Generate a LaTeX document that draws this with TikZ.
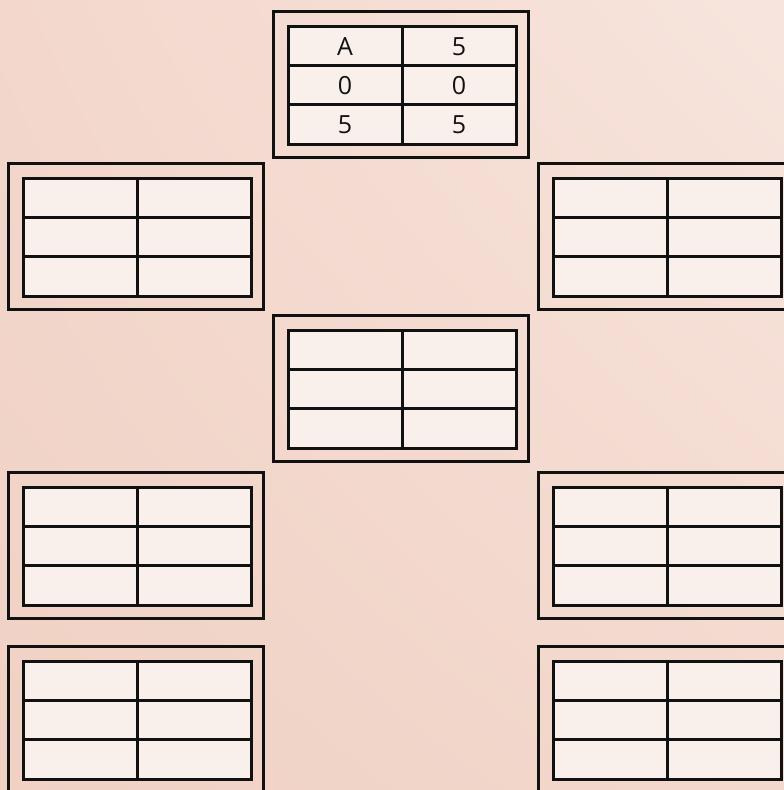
\documentclass[tikz,border=0pt]{standalone}
\usepackage{fontspec}
\setmainfont{Open Sans}
\usetikzlibrary{shadings}
\definecolor{bgLL}{HTML}{F0D1C4}
\definecolor{bgUR}{HTML}{F7E5DD}
\definecolor{bgUL}{HTML}{F3D7CC}
\definecolor{bgLR}{HTML}{F3D8CD}
\definecolor{cellfill}{HTML}{FAF0EB}
\definecolor{ink}{HTML}{111111}
\tikzset{
  outerframe/.style={draw=ink, line width=3pt},
  tablebox/.style={draw=ink, fill=cellfill, line width=3pt},
  gridline/.style={draw=ink, line width=3pt},
  celltext/.style={font=\fontsize{25}{28}\selectfont, text=ink, inner sep=0pt, anchor=center},
  pics/card/.style n args={6}{code={
    \draw[outerframe] (0,0) rectangle (255,146);
    \draw[tablebox] (15,15) rectangle (243,133);
    \draw[gridline] (129,15) -- (129,133);
    \draw[gridline] (15,54.3) -- (243,54.3);
    \draw[gridline] (15,93.7) -- (243,93.7);
    \node[celltext] (-a) at (72,35.5) {#1};
    \node[celltext] (-b) at (186,35.5) {#2};
    \node[celltext] (-c) at (72,75) {#3};
    \node[celltext] (-d) at (186,75) {#4};
    \node[celltext] (-e) at (72,114) {#5};
    \node[celltext] (-f) at (186,114) {#6};
  }}
}
\begin{document}
\begin{tikzpicture}[x=1pt,y=-1pt]
  \useasboundingbox (0,0) rectangle (784,790);
  \shade[lower left=bgLL, upper right=bgUR, upper left=bgUL, lower right=bgLR] (0,790) rectangle (784,0);
  \clip (0,0) rectangle (784,790);
  \pic (top) at (273,11) {card={A}{5}{0}{0}{5}{5}};
  \pic (l2) at (8,163) {card={}{}{}{}{}{}};
  \pic (r2) at (538,163) {card={}{}{}{}{}{}};
  \pic (mid) at (273,315) {card={}{}{}{}{}{}};
  \pic (l4) at (8,472) {card={}{}{}{}{}{}};
  \pic (r4) at (538,472) {card={}{}{}{}{}{}};
  \pic (l5) at (8,646) {card={}{}{}{}{}{}};
  \pic (r5) at (538,646) {card={}{}{}{}{}{}};
\end{tikzpicture}
\end{document}
